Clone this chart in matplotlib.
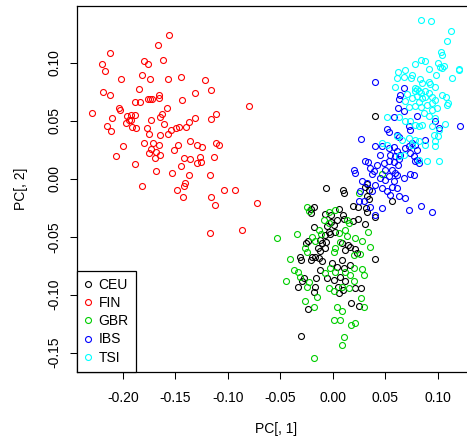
import matplotlib.pyplot as plt
import numpy as np

plt.rcParams['font.family'] = ['Liberation Sans', 'DejaVu Sans']

# PCA scores, one pair of lists per population
ceu_x = [-0.0068, 0.0094, 0.0108, -0.0175, -0.0204, -0.0207, -0.0071, -0.0020, 0.0063, 0.0094,
         0.0108, 0.0037, 0.0190, 0.0241, 0.0320, 0.0190, 0.0241, 0.0311, -0.0175, -0.0051,
         -0.0020, 0.0012, -0.0039, -0.0071, -0.0023, 0.0025, -0.0236, -0.0258, -0.0118, -0.0102,
         -0.0064, -0.0140, -0.0118, -0.0071, 0.0089, 0.0142, 0.0168, 0.0113, 0.0216, 0.0232,
         -0.0309, -0.0197, -0.0166, 0.0406, -0.0302, -0.0207, -0.0134, -0.0102, -0.0007, 0.0041,
         0.0089, 0.0168, 0.0104, -0.0278, -0.0293, -0.0331, -0.0156, -0.0118, -0.0054, 0.0009,
         0.0072, 0.0120, 0.0051, 0.0056, 0.0098, -0.0166, -0.0182, 0.0216, 0.0270, 0.0171,
         0.0247, -0.0239, -0.0302, 0.0400, 0.0327, 0.0311, 0.0342, 0.0327, 0.0342, 0.0565,
         0.0327, 0.0406]
ceu_y = [-0.0080, -0.0095, -0.0124, -0.0245, -0.0262, -0.0297, -0.0303, -0.0314, -0.0262, -0.0309,
         -0.0349, -0.0355, -0.0234, -0.0240, -0.0251, -0.0361, -0.0343, -0.0389, -0.0413, -0.0407,
         -0.0372, -0.0395, -0.0456, -0.0484, -0.0476, -0.0458, -0.0534, -0.0551, -0.0528, -0.0556,
         -0.0548, -0.0599, -0.0620, -0.0599, -0.0551, -0.0571, -0.0586, -0.0614, -0.0608, -0.0638,
         -0.0672, -0.0677, -0.0672, -0.0695, -0.0701, -0.0701, -0.0681, -0.0709, -0.0729, -0.0759,
         -0.0701, -0.0744, -0.0772, -0.0854, -0.0882, -0.0937, -0.0859, -0.0787, -0.0854, -0.0874,
         -0.0845, -0.0882, -0.0932, -0.0989, -0.0960, -0.0937, -0.0975, -0.0945, -0.0945, -0.1070,
         -0.1096, -0.1127, -0.1358, 0.0542, -0.0046, -0.0075, -0.0095, -0.0153, -0.0176, -0.0196,
         -0.0283, -0.0326]

fin_x = [-0.1558, -0.1666, -0.2127, -0.2200, -0.2175, -0.1803, -0.1761, -0.1622, -0.1816, -0.2023,
         -0.1746, -0.1571, -0.1444, -0.1222, -0.1158, -0.1317, -0.1847, -0.2188, -0.2127, -0.1654,
         -0.1654, -0.1761, -0.1746, -0.1727, -0.1882, -0.1841, -0.1437, -0.0802, -0.2035, -0.2032,
         -0.1577, -0.2299, -0.2108, -0.1962, -0.1923, -0.1882, -0.1940, -0.1923, -0.1628, -0.1651,
         -0.1733, -0.1310, -0.1117, -0.1161, -0.1374, -0.1968, -0.1613, -0.2149, -0.1914, -0.1876,
         -0.1775, -0.1463, -0.1494, -0.1399, -0.2118, -0.1542, -0.1574, -0.1644, -0.1756, -0.1803,
         -0.1711, -0.1656, -0.1997, -0.1730, -0.1756, -0.1685, -0.1644, -0.1698, -0.1479, -0.1517,
         -0.1358, -0.1291, -0.1246, -0.1110, -0.1084, -0.2070, -0.1415, -0.1358, -0.1263, -0.1294,
         -0.1256, -0.1136, -0.1885, -0.1450, -0.1682, -0.1536, -0.1374, -0.1174, -0.1819, -0.1406,
         -0.1422, -0.1485, -0.1040, -0.0935, -0.1425, -0.1158, -0.1120, -0.0722, -0.1170, -0.0862]
fin_y = [0.1243, 0.1150, 0.1081, 0.0989, 0.0926, 0.1018, 0.0989, 0.1023, 0.0897, 0.0859,
         0.0856, 0.0856, 0.0876, 0.0848, 0.0767, 0.0738, 0.0770, 0.0746, 0.0721, 0.0724,
         0.0698, 0.0692, 0.0689, 0.0686, 0.0660, 0.0666, 0.0677, 0.0625, 0.0612, 0.0597,
         0.0612, 0.0568, 0.0528, 0.0539, 0.0551, 0.0554, 0.0510, 0.0504, 0.0562, 0.0534,
         0.0508, 0.0525, 0.0556, 0.0516, 0.0493, 0.0478, 0.0473, 0.0452, 0.0450, 0.0441,
         0.0439, 0.0450, 0.0435, 0.0444, 0.0409, 0.0418, 0.0387, 0.0378, 0.0387, 0.0311,
         0.0309, 0.0292, 0.0279, 0.0260, 0.0225, 0.0231, 0.0202, 0.0176, 0.0292, 0.0245,
         0.0329, 0.0292, 0.0271, 0.0309, 0.0292, 0.0199, 0.0179, 0.0173, 0.0190, 0.0138,
         0.0144, 0.0184, 0.0124, 0.0110, 0.0067, 0.0049, 0.0032, 0.0029, -0.0063, -0.0041,
         -0.0063, -0.0093, -0.0098, -0.0095, -0.0156, -0.0156, -0.0227, -0.0210, -0.0470, -0.0441]

gbr_x = [-0.0528, -0.0338, -0.0245, -0.0230, 0.0025, -0.0039, -0.0087, -0.0039, 0.0136, 0.0152,
         -0.0134, -0.0112, -0.0197, -0.0166, 0.0056, 0.0113, 0.0136, 0.0333, 0.0216, 0.0279,
         -0.0268, -0.0245, 0.0025, 0.0072, 0.0009, 0.0359, -0.0411, 0.0199, 0.0263, -0.0373,
         -0.0331, -0.0309, -0.0442, -0.0245, -0.0230, -0.0071, -0.0023, 0.0025, 0.0120, 0.0168,
         0.0199, 0.0279, 0.0295, 0.0199, -0.0039, 0.0009, 0.0089, 0.0152, -0.0261, -0.0150,
         -0.0178, 0.0273, 0.0295, 0.0041, 0.0089, 0.0009, 0.0072, 0.0171, 0.0216, 0.0111,
         0.0089, -0.0182, 0.0470, 0.0247]
gbr_y = [-0.0510, -0.0478, -0.0240, -0.0274, -0.0268, -0.0283, -0.0355, -0.0378, -0.0355, -0.0383,
         -0.0441, -0.0476, -0.0499, -0.0534, -0.0470, -0.0441, -0.0493, -0.0461, -0.0513, -0.0534,
         -0.0599, -0.0629, -0.0599, -0.0542, -0.0629, -0.0586, -0.0695, -0.0657, -0.0649, -0.0787,
         -0.0802, -0.0845, -0.0882, -0.0932, -0.0888, -0.0816, -0.0772, -0.0802, -0.0802, -0.0830,
         -0.0772, -0.0779, -0.0830, -0.0882, -0.0940, -0.0969, -0.0932, -0.0945, -0.1053, -0.1023,
         -0.1110, -0.1032, -0.1105, -0.1110, -0.1139, -0.1222, -0.1217, -0.1263, -0.1240, -0.1367,
         -0.1438, -0.1546, 0.0041, -0.0124]

ibs_x = [0.0406, 0.0676, 0.0585, 0.0619, 0.0518, 0.0533, 0.0273, 0.0613, 0.0628, 0.0406,
         0.0470, 0.0533, 0.0581, 0.0613, 0.0549, 0.0597, 0.0645, 0.0692, 0.0756, 0.0788,
         0.0454, 0.0304, 0.0337, 0.0422, 0.0485, 0.0533, 0.0581, 0.0623, 0.0804, 0.0819,
         0.0199, 0.0216, 0.0359, 0.0390, 0.0375, 0.0502, 0.0565, 0.0597, 0.0454, 0.0502,
         0.0533, 0.0581, 0.0613, 0.0676, 0.0740, 0.0771, 0.0279, 0.0327, 0.0406, 0.0470,
         0.0565, 0.0613, 0.0263, 0.0375, 0.0518, 0.0549, 0.0628, 0.0247, 0.0295, 0.0692,
         0.0359, 0.0470, 0.0842, 0.0724, 0.0947, 0.0406, 0.0645, 0.0628, 0.0676, 0.0804,
         0.1217, 0.0724, 0.0740, 0.0978, 0.1010, 0.0883, 0.0628, 0.0724, 0.0740, 0.0771,
         0.0804, 0.0788]
ibs_y = [0.0836, 0.0779, 0.0536, 0.0612, 0.0430, 0.0404, 0.0346, 0.0381, 0.0357, 0.0279,
         0.0279, 0.0266, 0.0271, 0.0236, 0.0208, 0.0193, 0.0208, 0.0266, 0.0309, 0.0294,
         0.0208, 0.0156, 0.0144, 0.0121, 0.0136, 0.0150, 0.0144, 0.0121, 0.0164, 0.0136,
         0.0078, 0.0049, 0.0093, 0.0063, 0.0041, 0.0078, 0.0078, 0.0049, 0.0006, -0.0009,
         0.0020, -0.0023, 0.0029, 0.0006, 0.0041, 0.0035, -0.0023, -0.0037, -0.0052, -0.0080,
         -0.0067, -0.0080, -0.0110, -0.0104, -0.0110, -0.0138, -0.0153, -0.0196, -0.0190, -0.0167,
         -0.0240, -0.0253, -0.0231, -0.0268, -0.0283, -0.0311, 0.0718, 0.0689, 0.0582, 0.0539,
         0.0458, 0.0458, 0.0424, 0.0496, 0.0439, 0.0337, 0.0170, 0.0279, 0.0222, 0.0193,
         0.0251, 0.0150]

tsi_x = [0.0845, 0.0934, 0.1131, 0.1093, 0.1036, 0.1042, 0.0838, 0.0883, 0.0781, 0.1004,
         0.1026, 0.1058, 0.1042, 0.1207, 0.1207, 0.0915, 0.0619, 0.0686, 0.0676, 0.0756,
         0.0750, 0.0985, 0.1138, 0.0597, 0.0835, 0.0852, 0.0915, 0.0931, 0.0978, 0.0781,
         0.0804, 0.0819, 0.0788, 0.0845, 0.0876, 0.0915, 0.0709, 0.0756, 0.0804, 0.0852,
         0.0883, 0.0947, 0.0978, 0.1042, 0.1080, 0.1100, 0.1090, 0.0819, 0.0788, 0.0845,
         0.0899, 0.0947, 0.0995, 0.0947, 0.0692, 0.0724, 0.0867, 0.0915, 0.0972, 0.0518,
         0.0628, 0.0692, 0.0740, 0.0788, 0.0819, 0.0852, 0.1074, 0.0947, 0.1010, 0.0613,
         0.0661, 0.0724, 0.0962, 0.1004, 0.0978, 0.0788, 0.0819, 0.0756, 0.0876, 0.0978,
         0.0899, 0.1017, 0.0819, 0.0613, 0.0470, 0.0518, 0.0628, 0.0676]
tsi_y = [0.1369, 0.1358, 0.1274, 0.1191, 0.1092, 0.1067, 0.1021, 0.1015, 0.0986, 0.1001,
         0.0966, 0.0971, 0.0952, 0.0949, 0.0934, 0.0943, 0.0919, 0.0937, 0.0880, 0.0891,
         0.0871, 0.0891, 0.0871, 0.0793, 0.0862, 0.0822, 0.0833, 0.0813, 0.0793, 0.0785,
         0.0776, 0.0755, 0.0755, 0.0741, 0.0755, 0.0741, 0.0735, 0.0698, 0.0712, 0.0698,
         0.0707, 0.0707, 0.0677, 0.0718, 0.0707, 0.0655, 0.0640, 0.0660, 0.0625, 0.0620,
         0.0640, 0.0655, 0.0612, 0.0597, 0.0669, 0.0620, 0.0568, 0.0545, 0.0525, 0.0534,
         0.0534, 0.0496, 0.0496, 0.0467, 0.0452, 0.0467, 0.0476, 0.0458, 0.0424, 0.0366,
         0.0331, 0.0352, 0.0381, 0.0366, 0.0323, 0.0337, 0.0323, 0.0294, 0.0294, 0.0279,
         0.0150, 0.0150, 0.0164, 0.0871, 0.0309, 0.0294, 0.0193, 0.0208]

groups = ['CEU', 'FIN', 'GBR', 'IBS', 'TSI']
xs = [ceu_x, fin_x, gbr_x, ibs_x, tsi_x]
ys = [ceu_y, fin_y, gbr_y, ibs_y, tsi_y]
colors = ['black', '#FF0000', '#00CD00', '#0000FF', '#00FFFF']

fig = plt.figure(figsize=(4.67, 4.40), dpi=100)
# axes runs past the right edge of the picture, like the cropped original
ax = fig.add_axes([77 / 467, (440 - 371.5) / 440, 398 / 467, 365 / 440])

for x, y, c, g in zip(xs, ys, colors, groups):
    ax.plot(x, y, 'o', ms=4.3, mfc='none', mec=c, mew=0.8, label=g)

# R style limits: data range plus 4% on each side
all_x = np.concatenate(xs)
all_y = np.concatenate(ys)
dx = 0.04 * (all_x.max() - all_x.min())
dy = 0.04 * (all_y.max() - all_y.min())
ax.set_xlim(all_x.min() - dx, all_x.max() + dx)
ax.set_ylim(all_y.min() - dy, all_y.max() + dy)

ax.set_xticks([-0.20, -0.15, -0.10, -0.05, 0.00, 0.05, 0.10])
ax.set_yticks([-0.15, -0.10, -0.05, 0.00, 0.05, 0.10])
ax.xaxis.set_major_formatter(plt.FormatStrFormatter('%.2f'))
ax.yaxis.set_major_formatter(plt.FormatStrFormatter('%.2f'))
ax.tick_params(direction='out', length=5, width=0.75, labelsize=10)
ax.tick_params(axis='x', pad=9)
ax.tick_params(axis='y', labelrotation=90, pad=6)
for lab in ax.get_yticklabels():
    lab.set_va('center')

for sp in ax.spines.values():
    sp.set_linewidth(0.9)

ax.set_xlabel('PC[, 1]', fontsize=10, labelpad=12)
ax.set_ylabel('PC[, 2]', fontsize=10, labelpad=14)

leg = ax.legend(loc='lower left', borderaxespad=0, fancybox=False, edgecolor='black',
                framealpha=1, fontsize=10, handlelength=0.6, handletextpad=0.45,
                labelspacing=0.3, borderpad=0.5)
leg.get_frame().set_linewidth(0.9)

fig.savefig('out.png', dpi=100)
